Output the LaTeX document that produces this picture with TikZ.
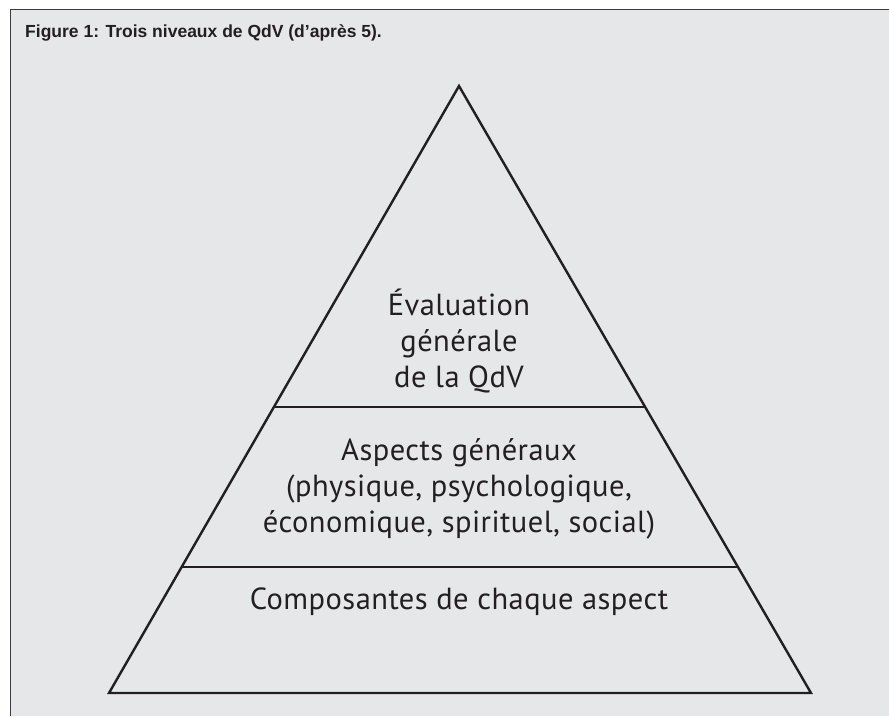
\documentclass[tikz,border=0pt]{standalone}
\usepackage{fontspec}
\setmainfont[LetterSpace=1.5]{PT Sans}
\newfontfamily\titlefont{Liberation Sans}
\usetikzlibrary{calc,positioning}
\definecolor{qdvBack}{RGB}{230,231,232}
\definecolor{qdvInk}{RGB}{35,31,32}
\definecolor{qdvFrame}{RGB}{60,60,60}

\tikzset{
  level/.style={align=center, text=qdvInk, inner sep=0pt,
    font=\fontsize{30.5}{36}\selectfont},
  tier/.style={draw=qdvInk, line width=2.4pt},
}

\begin{document}
\begin{tikzpicture}[x=1pt,y=-1pt]
    \useasboundingbox (0,0) rectangle (889,716);
    % panel
    \fill[qdvBack] (10,9) rectangle (889,716);
    \draw[qdvFrame, line width=1.4pt] (10.5,716) -- (10.5,9.5) -- (889,9.5);
    \node[anchor=base west, inner sep=0pt, text=qdvInk,
          font=\titlefont\bfseries\fontsize{17.5}{19}\selectfont] (title) at (25,37)
      {Figure 1: Trois niveaux de QdV (d’après 5).};

    % pyramid
    \coordinate (apex) at (459,86);
    \coordinate (baseL) at (109,693);
    \coordinate (baseR) at (811,693);
    \draw[tier, line join=miter] (apex) -- (baseL) -- (baseR) -- cycle;
    \coordinate (cutAL) at ($(apex)!0.529!(baseL)$);
    \coordinate (cutAR) at ($(apex)!0.529!(baseR)$);
    \coordinate (cutBL) at ($(apex)!0.792!(baseL)$);
    \coordinate (cutBR) at ($(apex)!0.792!(baseR)$);
    \draw[tier] (cutAL) -- (cutAR);
    \draw[tier] (cutBL) -- (cutBR);

    % levels
    \node[level] (global) at (459,341) {Évaluation\\générale\\de la QdV};
    \node[level] (aspects) at (459,489) {Aspects généraux\\(physique, psychologique,\\économique, spirituel, social)};
    \node[level] (parts) at (459,602) {Composantes de chaque aspect};
\end{tikzpicture}
\end{document}
